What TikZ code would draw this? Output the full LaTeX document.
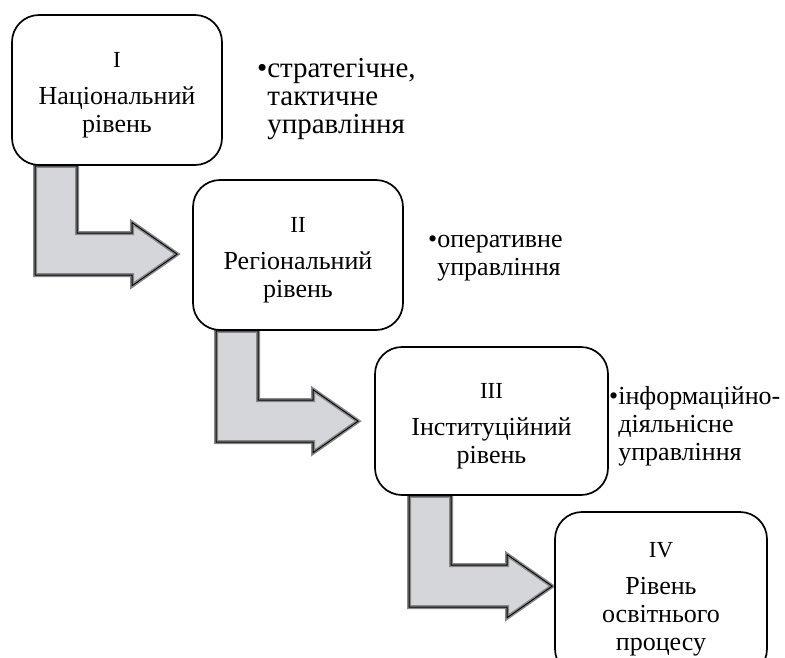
\documentclass[tikz,border=0pt]{standalone}
\usepackage{fontspec}
\setmainfont{Liberation Serif}
\usetikzlibrary{positioning,calc}

\definecolor{arrowfill}{RGB}{212,214,217}
\definecolor{arrowedge}{RGB}{135,135,138}
\newcommand{\levelnum}[1]{{\fontsize{23}{23}\selectfont\rule{0pt}{26pt}#1}}
\pgfdeclarelayer{bg}
\pgfsetlayers{bg,main}

\begin{document}
\begin{tikzpicture}[x=1pt, y=-1pt]
    \tikzset{
        levelbox/.style={draw=black, line width=1.7pt, rounded corners=27pt, fill=white,
            align=center, inner sep=0pt, font=\fontsize{26}{28}\selectfont},
        notestyle/.style={anchor=north west, align=left, inner sep=0pt,
            font=\fontsize{26}{28}\selectfont},
        bentarrow/.style={fill=arrowfill, postaction={draw=arrowedge, line width=4pt},
            postaction={draw=black, line width=0.9pt}}
    }

    \clip (0,0) rectangle (785,657);

    % levels
    \node[levelbox, minimum width=210, minimum height=150] (nat) at (117,90)
        {\levelnum{I}\\[9pt]Національний\\рівень};
    \node[levelbox, minimum width=210, minimum height=150] (reg) at (298,255)
        {\levelnum{II}\\[9pt]Регіональний\\рівень};
    \node[levelbox, minimum width=233, minimum height=148] (inst) at (491.5,421)
        {\levelnum{III}\\[9pt]Інституційний\\рівень};
    \node[levelbox, minimum width=212, minimum height=164] (proc) at (661,594)
        {\levelnum{IV}\\[9pt]Рівень\\освітнього\\процесу};

    % management types
    \node[notestyle, font=\fontsize{29}{28}\selectfont] (natnote) at (257,58)
        {•стратегічне,\\\phantom{•}тактичне\\\phantom{•}управління};
    \node[notestyle] (regnote) at (428,235)
        {•оперативне\\\phantom{•}управління};
    \node[notestyle] (instnote) at (609,386)
        {•інформаційно-\\\phantom{•}діяльнісне\\\phantom{•}управління};

    % bent arrows
    \begin{pgfonlayer}{bg}
    \foreach \from/\to/\off/\gap in {nat/reg/24/15, reg/inst/24/16, inst/proc/35/2} {
        \draw[bentarrow] ($(\from.south west)+(\off,0)$) -- ++(42,0)
            |- ($(\to.north west)+(-\gap-45,54)$) -- ++(0,-10.5) -- ($(\to.north west)+(-\gap,75)$)
            -- ++(-45,31.5) -- ++(0,-10.5) -| ($(\from.south west)+(\off,0)$) -- cycle;
    }
    \end{pgfonlayer}

\end{tikzpicture}
\end{document}
